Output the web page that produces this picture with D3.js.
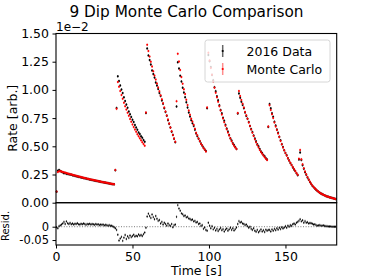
<!DOCTYPE html>
<html><head><meta charset="utf-8">
<script src="https://cdn.jsdelivr.net/npm/d3@7"></script>
<style>body{margin:0;background:#fff}svg{display:block}text{font-family:"DejaVu Sans",sans-serif}</style>
</head><body><svg id="c" width="374" height="280"></svg>
<script>
// time bins (s): first bin centre and bin width
const binStart = 0.4, binWidth = 0.8;
// 2016 data rate (units of 1e-2)
const rate2016 = [
0.098,0.283,0.290,0.281,0.274,0.270,0.262,0.263,0.256,0.255,0.253,0.249,0.248,0.243,0.242,0.238,0.234,0.233,0.229,0.228,0.224,0.222,0.218,0.217,0.214,0.211,0.209,0.206,0.204,0.201,0.199,0.197,0.194,0.192,0.190,0.188,0.185,0.183,0.181,0.179,0.177,0.175,0.173,0.170,0.168,0.166,0.164,0.163,
0.288,0.840,
1.120,1.079,1.040,1.003,0.972,0.934,0.901,0.870,0.841,0.808,0.785,0.760,0.735,0.715,0.689,0.667,0.646,0.623,0.608,0.590,0.576,0.556,0.540,
0.795,
1.368,1.306,1.264,1.225,1.173,1.140,1.109,1.066,1.038,1.009,0.972,0.945,0.907,0.877,0.837,0.804,0.771,0.732,0.699,0.666,0.629,0.601,0.567,0.537,
0.853,
1.245,1.190,1.125,1.075,1.020,0.977,0.935,0.890,0.843,0.800,0.764,0.732,0.705,0.680,0.646,0.614,0.590,0.567,0.545,0.524,0.506,0.490,0.472,0.458,
0.838,
1.310,1.255,1.202,1.133,1.086,1.024,0.989,0.943,0.909,0.864,0.822,0.792,0.754,0.727,0.690,0.657,0.631,0.601,0.571,0.552,0.526,0.512,0.494,0.477,
0.790,
0.969,0.930,0.894,0.867,0.837,0.800,0.769,0.744,0.715,0.680,0.653,0.627,0.596,0.570,0.545,0.518,0.500,0.475,0.455,0.441,0.423,0.411,0.394,0.384,
0.672,
0.875,0.837,0.793,0.761,0.718,0.685,0.649,0.621,0.584,0.553,0.519,0.493,0.465,0.440,0.420,0.393,0.374,0.352,0.334,0.313,0.294,0.280,0.260,0.244,
0.382,
0.445,0.378,0.332,0.300,0.271,0.248,0.224,0.203,0.183,0.167,0.151,0.138,0.126,0.115,0.105,0.097,0.088,0.082,0.076,0.070,0.065,0.060,0.056,0.052,0.048,0.045,0.042,0.039,0.036,0.033];
// Monte Carlo rate (units of 1e-2)
const rateMC = [
0.100,0.272,0.278,0.279,0.276,0.272,0.269,0.266,0.263,0.259,0.256,0.253,0.250,0.247,0.244,0.241,0.238,0.235,0.232,0.230,0.227,0.224,0.221,0.219,0.216,0.213,0.211,0.208,0.206,0.203,0.201,0.198,0.196,0.194,0.191,0.189,0.187,0.184,0.182,0.180,0.178,0.176,0.174,0.171,0.169,0.167,0.165,0.163,
0.290,0.832,
1.070,1.029,0.991,0.955,0.921,0.887,0.856,0.826,0.797,0.770,0.743,0.718,0.694,0.670,0.649,0.628,0.607,0.589,0.571,0.553,0.537,0.520,0.505,
0.800,
1.400,1.345,1.295,1.250,1.207,1.166,1.128,1.092,1.057,1.022,0.987,0.952,0.917,0.881,0.845,0.809,0.773,0.737,0.702,0.667,0.633,0.600,0.569,0.540,
0.900,
1.320,1.251,1.176,1.114,1.055,1.005,0.963,0.913,0.866,0.818,0.780,0.745,0.719,0.690,0.656,0.620,0.597,0.570,0.548,0.523,0.507,0.486,0.471,0.454,
0.845,
1.330,1.260,1.195,1.135,1.075,1.020,0.975,0.935,0.895,0.855,0.818,0.782,0.747,0.714,0.682,0.652,0.622,0.595,0.569,0.545,0.523,0.505,0.490,0.476,
0.795,
0.990,0.945,0.910,0.878,0.845,0.805,0.775,0.745,0.712,0.680,0.648,0.620,0.592,0.562,0.535,0.512,0.490,0.468,0.450,0.433,0.418,0.403,0.390,0.378,
0.676,
0.865,0.822,0.785,0.750,0.712,0.676,0.645,0.614,0.582,0.548,0.518,0.490,0.464,0.441,0.418,0.395,0.374,0.354,0.335,0.316,0.298,0.282,0.264,0.248,
0.390,
0.468,0.385,0.340,0.305,0.277,0.252,0.228,0.205,0.186,0.169,0.153,0.139,0.127,0.116,0.106,0.097,0.089,0.082,0.076,0.070,0.065,0.060,0.056,0.052,0.048,0.045,0.042,0.039,0.036,0.033];
// residuals
const resid = [
-0.002,-0.006,0.002,0.005,0.008,0.012,0.018,0.010,0.020,0.013,0.010,0.014,0.009,0.012,0.008,0.011,0.010,0.013,0.009,0.008,0.011,0.009,0.012,0.010,0.007,0.010,0.009,0.011,0.008,0.010,0.009,0.007,0.010,0.008,0.009,0.006,0.008,0.007,0.008,0.005,0.007,0.006,0.004,0.006,0.003,0.004,0.001,-0.002,
-0.006,-0.012,
-0.030,-0.052,-0.044,-0.038,-0.053,-0.041,-0.031,-0.046,-0.036,-0.042,-0.033,-0.039,-0.035,-0.030,-0.037,-0.034,-0.036,-0.029,-0.034,-0.031,-0.035,-0.028,-0.022,
-0.004,
0.038,0.049,0.040,0.033,0.046,0.036,0.028,0.040,0.030,0.022,0.025,0.012,0.018,0.008,0.015,0.010,0.004,0.012,0.006,0.003,0.010,-0.002,0.006,0.008,
0.037,
0.081,0.068,0.060,0.050,0.047,0.040,0.042,0.035,0.037,0.031,0.029,0.025,0.027,0.020,0.022,0.016,0.018,0.010,0.012,0.003,0.006,-0.008,-0.003,-0.012,
-0.015,
0.015,0.004,-0.006,0.002,-0.010,-0.004,-0.014,-0.008,-0.016,-0.010,-0.005,-0.013,-0.009,-0.018,-0.011,-0.007,-0.015,-0.010,-0.004,-0.012,-0.006,-0.014,-0.009,-0.003,
0.010,
0.021,0.016,0.018,0.012,0.010,0.006,0.008,0.002,-0.004,0.000,-0.008,-0.012,-0.006,-0.015,-0.019,-0.012,-0.021,-0.016,-0.010,-0.018,-0.013,-0.020,-0.011,-0.015,
-0.012,
-0.012,-0.018,-0.010,-0.015,-0.008,-0.013,-0.006,-0.011,-0.004,-0.009,-0.002,-0.007,-0.003,0.002,-0.004,0.004,0.000,0.006,0.003,0.009,0.012,0.008,0.015,0.018,
0.022,
0.028,0.020,0.024,0.015,0.021,0.015,0.017,0.012,0.014,0.013,0.011,0.008,0.009,0.006,0.004,0.005,0.006,0.004,0.004,0.005,0.003,0.002,0.002,0.001,0.001,0.001,0.000,0.000,0.000,0.000];
const rateErr = 0.012, residErr = 0.005;
const rateTicks = [0, 0.25, 0.5, 0.75, 1.0, 1.25, 1.5];
const residTicks = [-0.05, 0];
const residTickLabels = ["-0.05", "0"];
const timeTicks = [0, 50, 100, 150];
const legendLabels = ["2016 Data", "Monte Carlo"];

const time = rate2016.map((_, i) => binStart + binWidth * i);

const svg = d3.select("#c");
svg.append("rect").attr("width",374).attr("height",280).attr("fill","#fff");
const L = 56, R = 336.7, T = 33.5, M = 202.7, B = 245;
const x = d3.scaleLinear().domain([0, 183.5]).range([L, R]);
const y = d3.scaleLinear().domain([0, 1.5]).range([M, T]);
const yr = d3.scaleLinear().domain([-0.0686, 0.09]).range([B, M]);

const FS = "12.5px";
function styleAxis(g, fs){
  g.select(".domain").remove();
  g.selectAll(".tick line").attr("stroke","#000").attr("stroke-width",1);
  g.selectAll(".tick text").attr("fill","#000").style("font-size",fs || FS).style("font-family","DejaVu Sans");
}
svg.append("g").attr("transform",`translate(${L},0)`)
  .call(d3.axisLeft(y).tickValues(rateTicks).tickFormat(d3.format(".2f")).tickSize(3.5).tickPadding(3.5)).call(g=>styleAxis(g));
svg.append("g").attr("transform",`translate(${L},0)`)
  .call(d3.axisLeft(yr).tickValues(residTicks).tickFormat((d,i)=>residTickLabels[i]).tickSize(3.5).tickPadding(3.5)).call(g=>styleAxis(g,"11.5px"));
svg.append("g").attr("transform",`translate(0,${B})`)
  .call(d3.axisBottom(x).tickValues(timeTicks).tickFormat(d3.format("d")).tickSize(3.5).tickPadding(3.5)).call(g=>styleAxis(g));

// residual zero line
svg.append("line").attr("x1",L).attr("x2",R).attr("y1",yr(0)).attr("y2",yr(0))
  .attr("stroke","#555").attr("stroke-width",0.8).attr("stroke-dasharray","1,1.6");

// main data
const gD = svg.append("g");
gD.selectAll("line").data(time).join("line")
  .attr("x1",(t)=>x(t)).attr("x2",(t)=>x(t))
  .attr("y1",(t,i)=>y(rate2016[i]-rateErr)).attr("y2",(t,i)=>y(rate2016[i]+rateErr))
  .attr("stroke","#000").attr("stroke-opacity",0.6).attr("stroke-width",1);
gD.selectAll("circle").data(time).join("circle")
  .attr("cx",(t)=>x(t)).attr("cy",(t,i)=>y(rate2016[i])).attr("r",1.0).attr("fill","#000");
const gM = svg.append("g");
gM.selectAll("line").data(time).join("line")
  .attr("x1",(t)=>x(t)).attr("x2",(t)=>x(t))
  .attr("y1",(t,i)=>y(rateMC[i]-rateErr)).attr("y2",(t,i)=>y(rateMC[i]+rateErr))
  .attr("stroke","#ff0000").attr("stroke-opacity",0.45).attr("stroke-width",1);
gM.selectAll("circle").data(time).join("circle")
  .attr("cx",(t)=>x(t)).attr("cy",(t,i)=>y(rateMC[i])).attr("r",1.0).attr("fill","#ff0000");

// residuals
const gR = svg.append("g");
gR.selectAll("line").data(time).join("line")
  .attr("x1",(t)=>x(t)).attr("x2",(t)=>x(t))
  .attr("y1",(t,i)=>yr(resid[i]-residErr)).attr("y2",(t,i)=>yr(resid[i]+residErr))
  .attr("stroke","#000").attr("stroke-opacity",0.6).attr("stroke-width",0.9);
gR.selectAll("circle").data(time).join("circle")
  .attr("cx",(t)=>x(t)).attr("cy",(t,i)=>yr(resid[i])).attr("r",0.7).attr("fill","#000");

// frames
svg.append("rect").attr("x",L).attr("y",T).attr("width",R-L).attr("height",M-T)
  .attr("fill","none").attr("stroke","#000").attr("stroke-width",1.1);
svg.append("rect").attr("x",L).attr("y",M).attr("width",R-L).attr("height",B-M)
  .attr("fill","none").attr("stroke","#000").attr("stroke-width",1.1);

// legend
const lg = svg.append("g");
lg.append("rect").attr("x",205).attr("y",40).attr("width",125).attr("height",42).attr("rx",2.5)
  .attr("fill","#fff").attr("fill-opacity",0.8).attr("stroke","#d6d6d6").attr("stroke-width",1);
const lcol = ["#000","#ff0000"], lop = [0.6,0.45];
legendLabels.forEach((lab,i)=>{
  const cy = 51 + i*18;
  lg.append("line").attr("x1",222.7).attr("x2",222.7).attr("y1",cy-6).attr("y2",cy+6)
    .attr("stroke",lcol[i]).attr("stroke-opacity",lop[i]).attr("stroke-width",1.5);
  lg.append("circle").attr("cx",222.7).attr("cy",cy).attr("r",1.1).attr("fill",lcol[i]);
  lg.append("text").attr("x",246.5).attr("y",cy+4.6).text(lab).style("font-size",FS).attr("fill","#000");
});

// texts
svg.append("text").attr("x",186.5).attr("y",16.8).attr("text-anchor","middle")
  .style("font-size","15.3px").text("9 Dip Monte Carlo Comparison");
svg.append("text").attr("x",56).attr("y",31).style("font-size","12px").text("1e\u22122");
svg.append("text").attr("transform","translate(16.5,118.3) rotate(-90)").attr("text-anchor","middle")
  .style("font-size",FS).text("Rate [arb.]");
svg.append("text").attr("transform","translate(9,226) rotate(-90)").attr("text-anchor","middle")
  .style("font-size","10px").text("Resid.");
svg.append("text").attr("x",(L+R)/2).attr("y",275).attr("text-anchor","middle")
  .style("font-size",FS).text("Time [s]");
</script></body></html>
